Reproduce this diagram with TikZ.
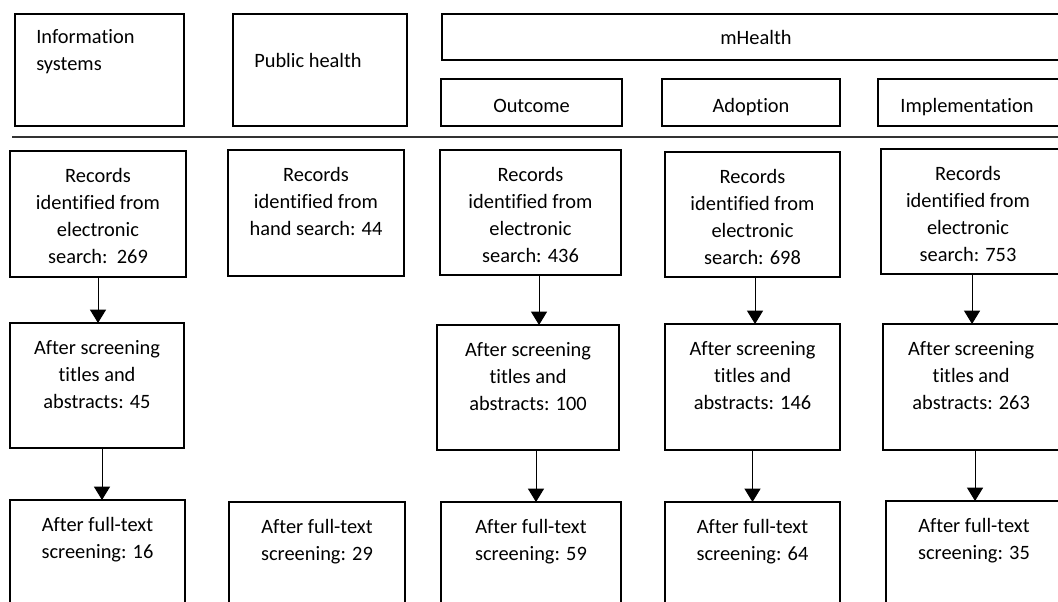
\documentclass[tikz,border=0pt]{standalone}
\usepackage{fontspec}
\setmainfont[Ligatures=NoCommon]{Carlito}
\usetikzlibrary{arrows.meta,fit}

\begin{document}
\begin{tikzpicture}[x=0.75pt,y=-0.75pt,
  box/.style={draw,line width=1.5pt,inner sep=0pt,outer sep=0pt},
  txt/.style={font=\fontsize{15.3}{20.25}\selectfont,align=center,inner sep=0pt,anchor=north,execute at begin node=\strut},
  lbl/.style={font=\fontsize{15.3}{20.25}\selectfont,inner sep=0pt,anchor=base},
  flow/.style={-{Triangle[width=12pt,length=10pt]},line width=0.75pt}]
\useasboundingbox (0,0) rectangle (1058,602);
\clip (0,0) rectangle (1058,602);

% header boxes
\node[box,fit={(15,14) (184,126)}] (ishead) {};
\node[box,fit={(233,14) (407,126)}] (phhead) {};
\node[box,fit={(442,14) (1070,60)}] (mhhead) {};
\node[box,fit={(441,79) (622,126)}] (ochead) {};
\node[box,fit={(662,79) (840,126)}] (adhead) {};
\node[box,fit={(878,79) (1070,126)}] (imhead) {};
\node[txt,align=left,anchor=north west] (istitle) at ([xshift=15.75pt,yshift=-11.5pt]ishead.north west) {Information\\systems};
\node[lbl,anchor=base west] (phtitle) at ([xshift=15.75pt,yshift=-40.5pt]phhead.north west) {Public health};
\node[lbl] (mhtitle) at ([yshift=-23pt]mhhead.north) {mHealth};
\node[lbl] (octitle) at ([yshift=-25.5pt]ochead.north) {Outcome};
\node[lbl] (adtitle) at ([yshift=-25.5pt]adhead.north) {Adoption};
\node[lbl] (imtitle) at ([xshift=-5.25pt,yshift=-25.5pt]imhead.north) {Implementation};

\draw[line width=0.9pt,black!80] (12,137) -- (1070,137);

% records
\node[box,fit={(10,151) (186,277)}] (isrec) {};
\node[box,fit={(228,150) (404,276)}] (phrec) {};
\node[box,fit={(440,150) (621,275)}] (ocrec) {};
\node[box,fit={(665,152) (840,277)}] (adrec) {};
\node[box,fit={(881,149) (1070,274)}] (imrec) {};
\node[txt] (isrectext) at ([yshift=-12.8pt]isrec.north) {Records\\identified from\\electronic\\search:\ \ 269};
\node[txt] (phrectext) at ([yshift=-12.8pt]phrec.north) {Records\\identified from\\hand search: 44};
\node[txt] (ocrectext) at ([yshift=-12.8pt]ocrec.north) {Records\\identified from\\electronic\\search: 436};
\node[txt] (adrectext) at ([yshift=-12.8pt]adrec.north) {Records\\identified from\\electronic\\search: 698};
\node[txt] (imrectext) at ([xshift=-5.6pt,yshift=-12.8pt]imrec.north) {Records\\identified from\\electronic\\search: 753};

% screening
\node[box,fit={(10,323) (184,448)}] (isscr) {};
\node[box,fit={(437,325) (619,450)}] (ocscr) {};
\node[box,fit={(665,324) (840,450)}] (adscr) {};
\node[box,fit={(883,324) (1070,450)}] (imscr) {};
\node[txt] (isscrtext) at ([yshift=-12.8pt]isscr.north) {After screening\\titles and\\abstracts: 45};
\node[txt] (ocscrtext) at ([yshift=-12.8pt]ocscr.north) {After screening\\titles and\\abstracts: 100};
\node[txt] (adscrtext) at ([yshift=-12.8pt]adscr.north) {After screening\\titles and\\abstracts: 146};
\node[txt] (imscrtext) at ([xshift=-4pt,yshift=-12.8pt]imscr.north) {After screening\\titles and\\abstracts: 263};

% full text
\node[box,fit={(10,500) (185,640)}] (isful) {};
\node[box,fit={(229,502) (405,640)}] (phful) {};
\node[box,fit={(441,502) (621,640)}] (ocful) {};
\node[box,fit={(665,502) (840,640)}] (adful) {};
\node[box,fit={(886,501) (1070,640)}] (imful) {};
\node[txt] (isfultext) at ([yshift=-12.8pt]isful.north) {After full-text\\screening: 16};
\node[txt] (phfultext) at ([yshift=-12.8pt]phful.north) {After full-text\\screening: 29};
\node[txt] (ocfultext) at ([yshift=-12.8pt]ocful.north) {After full-text\\screening: 59};
\node[txt] (adfultext) at ([yshift=-12.8pt]adful.north) {After full-text\\screening: 64};
\node[txt] (imfultext) at ([xshift=-3pt,yshift=-12.8pt]imful.north) {After full-text\\screening: 35};

% arrows
\draw[flow] (isrec.south) -- (isrec.south |- isscr.north);
\draw[flow] ([xshift=3.75pt]isscr.south) -- ([xshift=3.75pt]isscr.south |- isful.north);
\draw[flow] ([xshift=6.4pt]ocrec.south) -- ([xshift=6.4pt]ocrec.south |- ocscr.north);
\draw[flow] ([xshift=6pt]ocscr.south) -- ([xshift=6pt]ocscr.south |- ocful.north);
\draw[flow] ([xshift=1.9pt]adrec.south) -- ([xshift=1.9pt]adrec.south |- adscr.north);
\draw[flow] (adscr.south) -- (adscr.south |- adful.north);
\draw[flow] ([xshift=-2.6pt]imrec.south) -- ([xshift=-2.6pt]imrec.south |- imscr.north);
\draw[flow] ([xshift=-1.1pt]imscr.south) -- ([xshift=-1.1pt]imscr.south |- imful.north);
\end{tikzpicture}
\end{document}
